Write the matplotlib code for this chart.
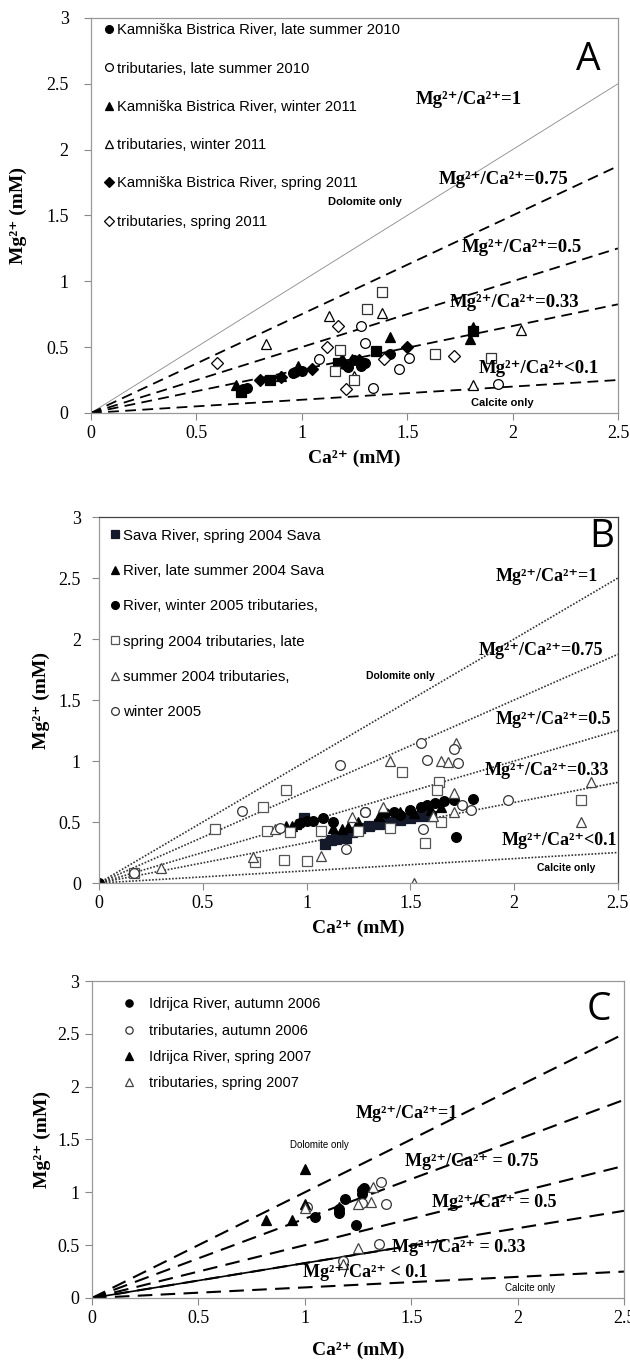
import numpy as np
import matplotlib
matplotlib.use('Agg')
from matplotlib import pyplot as plt
from matplotlib.ticker import FormatStrFormatter

plt.rcParams['font.family'] = ['Liberation Serif', 'DejaVu Serif']

#(0) Data  (Ca2+, Mg2+ in mM)
# Panel A: Kamniska Bistrica
a_riv_ls2010   = [(0.72,0.18),(0.74,0.19),(0.96,0.30),(0.97,0.31),(1.00,0.32),(1.20,0.37),(1.22,0.35),(1.25,0.40),(1.28,0.36),(1.30,0.38),(1.42,0.45)]
a_trib_ls2010  = [(1.08,0.41),(1.28,0.66),(1.30,0.53),(1.34,0.19),(1.46,0.33),(1.51,0.42),(1.93,0.22)]
a_riv_w2011    = [(0.69,0.21),(0.90,0.28),(0.98,0.36),(1.19,0.42),(1.24,0.41),(1.42,0.58),(1.81,0.65),(1.80,0.56)]
a_trib_w2011   = [(0.83,0.52),(1.13,0.74),(1.38,0.76),(1.25,0.28),(1.81,0.21),(2.04,0.63)]
a_riv_sp2011   = [(0.80,0.25),(0.90,0.27),(1.05,0.33),(1.27,0.40),(1.50,0.50)]
a_trib_sp2011  = [(0.60,0.38),(1.12,0.50),(1.17,0.66),(1.21,0.18),(1.39,0.41),(1.72,0.43)]
a_riv_sq       = [(0.71,0.16),(0.85,0.25),(1.17,0.38),(1.35,0.47),(1.81,0.62)]
a_trib_sq      = [(1.18,0.48),(1.16,0.32),(1.31,0.79),(1.38,0.92),(1.25,0.25),(1.63,0.45),(1.90,0.42)]

# Panel B: Sava
b_riv_sp2004   = [(0.99,0.53),(1.09,0.32),(1.12,0.35),(1.14,0.36),(1.17,0.38),(1.19,0.37),(1.22,0.42),(1.26,0.45),(1.30,0.47),(1.35,0.48),(1.40,0.50),(1.45,0.52),(1.50,0.53),(1.55,0.55),(1.60,0.55)]
b_riv_ls2004   = [(0.90,0.47),(0.93,0.47),(0.95,0.48),(1.13,0.45),(1.17,0.44),(1.20,0.46),(1.25,0.50),(1.35,0.55),(1.45,0.58),(1.52,0.57),(1.60,0.60),(1.65,0.62)]
b_riv_w2005    = [(0.00,0.00),(0.97,0.49),(1.00,0.51),(1.03,0.51),(1.08,0.53),(1.13,0.50),(1.28,0.58),(1.38,0.57),(1.42,0.58),(1.45,0.56),(1.50,0.60),(1.55,0.62),(1.58,0.64),(1.62,0.66),(1.66,0.67),(1.71,0.68),(1.80,0.69),(1.72,0.38)]
b_trib_sp2004  = [(0.17,0.08),(0.56,0.44),(0.79,0.62),(0.90,0.76),(0.81,0.43),(0.92,0.42),(1.07,0.43),(0.75,0.17),(0.89,0.19),(1.00,0.18),(1.46,0.91),(1.64,0.83),(1.63,0.76),(1.65,0.50),(1.57,0.33),(2.32,0.68),(1.25,0.43),(1.40,0.45)]
b_trib_ls2004  = [(0.30,0.12),(0.74,0.21),(0.85,0.44),(1.07,0.22),(1.22,0.54),(1.40,1.00),(1.65,1.00),(1.68,0.99),(1.72,1.15),(1.71,0.74),(1.37,0.62),(1.61,0.55),(1.71,0.58),(2.37,0.83),(2.32,0.50),(1.52,0.00)]
b_trib_w2005   = [(0.17,0.08),(0.69,0.59),(0.87,0.45),(1.16,0.97),(1.19,0.28),(1.28,0.58),(1.55,1.15),(1.71,1.10),(1.58,1.01),(1.73,0.98),(1.75,0.64),(1.79,0.60),(1.97,0.68),(1.56,0.44)]

# Panel C: Idrijca
c_riv_au2006   = [(1.05,0.77),(1.16,0.80),(1.16,0.84),(1.19,0.94),(1.24,0.69),(1.27,1.02),(1.27,0.98),(1.28,1.04)]
c_trib_au2006  = [(1.01,0.86),(1.27,0.90),(1.36,1.10),(1.38,0.89),(1.35,0.51),(1.18,0.35)]
c_riv_sp2007   = [(0.82,0.74),(0.94,0.74),(1.00,0.89),(1.00,1.22),(1.16,0.86)]
c_trib_sp2007  = [(1.00,0.85),(1.25,0.89),(1.31,0.91),(1.32,1.05),(1.25,0.47),(1.18,0.32)]

ratios   = [1, 0.75, 0.5, 0.33, 0.1]
lbl_A    = ['Kamniška Bistrica River, late summer 2010', 'tributaries, late summer 2010',
            'Kamniška Bistrica River, winter 2011', 'tributaries, winter 2011',
            'Kamniška Bistrica River, spring 2011', 'tributaries, spring 2011']
lbl_B    = ['Sava River, spring 2004 Sava', 'River, late summer 2004 Sava',
            'River, winter 2005 tributaries,', 'spring 2004 tributaries, late',
            'summer 2004 tributaries,', 'winter 2005']
lbl_C    = ['Idrijca River, autumn 2006', 'tributaries, autumn 2006',
            'Idrijca River, spring 2007', 'tributaries, spring 2007']
txt_A    = ['=1', '=0.75', '=0.5', '=0.33', '<0.1']
txt_C    = ['=1', ' = 0.75', ' = 0.5', ' = 0.33', ' < 0.1']


def pts(ax, data, marker, filled, ms=7, color='k', label=None, mew=0.9):
	d = np.array(data)
	fc = color if filled else 'white'
	return ax.plot(d[:,0], d[:,1], ls='none', marker=marker, ms=ms, mfc=fc, mec=color, mew=mew, label=label)[0]


def frame(ax, ypad=4, ylpad=4, xlpad=6, spc='#999999'):
	ax.set_xlim(0, 2.5)
	ax.set_ylim(0, 3)
	ax.set_xticks(np.arange(0, 2.51, 0.5))
	ax.set_yticks(np.arange(0, 3.01, 0.5))
	ax.xaxis.set_major_formatter(FormatStrFormatter('%g'))
	ax.yaxis.set_major_formatter(FormatStrFormatter('%g'))
	ax.tick_params(labelsize=13, length=5, color='#888888', width=0.8)
	ax.tick_params(axis='y', pad=ypad)
	for s in ax.spines.values():
		s.set_color(spc); s.set_linewidth(0.9)
	ax.set_xlabel('Ca²⁺ (mM)', size=14, weight='bold', labelpad=xlpad)
	ax.set_ylabel('Mg²⁺ (mM)', size=14, weight='bold', labelpad=ylpad)


def ratio_text(ax, x, y, s, size=13.5):
	ax.text(x, y, 'Mg²⁺/Ca²⁺' + s, size=size, weight='bold', va='center', ha='left')


plt.close('all')
fig = plt.figure(figsize=(6.3, 13.61), dpi=100)
axA = fig.add_axes([0.1444, 0.6966, 0.8365, 0.2902])
axB = fig.add_axes([0.157, 0.3512, 0.8238, 0.2689])
axC = fig.add_axes([0.146, 0.0463, 0.8444, 0.2329])
xx  = np.array([0, 2.5])

#(1) Panel A
for r in ratios:
	if r == 1:
		axA.plot(xx, r*xx, color='#888888', lw=0.6)
	else:
		axA.plot(xx, r*xx, color='k', lw=1.3, ls=(0, (6, 3.5)))
hA = [pts(axA, a_riv_ls2010, 'o', True), pts(axA, a_trib_ls2010, 'o', False),
      pts(axA, a_riv_w2011, '^', True), pts(axA, a_trib_w2011, '^', False),
      pts(axA, a_riv_sp2011, 'D', True, ms=6), pts(axA, a_trib_sp2011, 'D', False, ms=6)]
pts(axA, a_riv_sq, 's', True)
pts(axA, a_trib_sq, 's', False, color='#333333')
axA.legend(hA, lbl_A, loc='upper left', bbox_to_anchor=(0.0, 1.02), frameon=False, handlelength=0.7,
           handletextpad=0.15, labelspacing=1.65, markerscale=0.8,
           prop=dict(family='Liberation Sans', size=10.6))
for (x, y), s in zip([(1.54,2.38),(1.65,1.77),(1.76,1.26),(1.70,0.84),(1.84,0.34)], txt_A):
	ratio_text(axA, x, y, s)
axA.text(1.30, 1.60, 'Dolomite only', family='Liberation Sans', weight='bold', size=8, ha='center', va='center')
axA.text(1.95, 0.076, 'Calcite only', family='Liberation Sans', weight='bold', size=8, ha='center', va='center')
axA.text(2.36, 2.68, 'A', family='Open Sans', size=28, ha='center', va='center')
frame(axA, ypad=11, ylpad=14)

#(2) Panel B
for r in ratios:
	axB.plot(xx, r*xx, color='#333333', lw=1.2, ls=(0, (1, 1)))
hB = [pts(axB, b_riv_sp2004, 's', True, color='#141a2a'), pts(axB, b_riv_ls2004, '^', True),
      pts(axB, b_riv_w2005, 'o', True), pts(axB, b_trib_sp2004, 's', False, color='#555555'),
      pts(axB, b_trib_ls2004, '^', False, color='#444444'), pts(axB, b_trib_w2005, 'o', False, color='#333333')]
axB.legend(hB, lbl_B, loc='upper left', bbox_to_anchor=(-0.005, 1.005), frameon=False, handlelength=0.7,
           handletextpad=0.15, labelspacing=1.42, markerscale=0.8,
           prop=dict(family='Liberation Sans', size=10.8))
for (x, y), s in zip([(1.91,2.51),(1.83,1.91),(1.91,1.34),(1.86,0.92),(1.94,0.35)], txt_A):
	ratio_text(axB, x, y, s, size=13)
axB.text(1.45, 1.70, 'Dolomite only', family='Liberation Sans', weight='bold', size=7.5, ha='center', va='center')
axB.text(2.25, 0.125, 'Calcite only', family='Liberation Sans', weight='bold', size=7.5, ha='center', va='center')
axB.text(2.42, 2.84, 'B', family='Open Sans', size=28, ha='center', va='center')
frame(axB, ypad=8, ylpad=6)
axB.spines['top'].set_color('#444444')
axB.spines['right'].set_color('#444444')

#(3) Panel C
for r in ratios:
	axC.plot(xx, r*xx, color='k', lw=1.5, ls=(0, (7, 4)))
axC.plot([0, 1.4], [0, 0.33*1.4], color='k', lw=1.2)
hC = [pts(axC, c_riv_au2006, 'o', True), pts(axC, c_trib_au2006, 'o', False, color='#333333'),
      pts(axC, c_riv_sp2007, '^', True), pts(axC, c_trib_sp2007, '^', False, color='#444444')]
axC.legend(hC, lbl_C, loc='upper left', bbox_to_anchor=(0.035, 0.99), frameon=False, handlelength=0.7,
           handletextpad=1.0, labelspacing=0.85, markerscale=0.75,
           prop=dict(family='Liberation Sans', size=10.5))
for (x, y), s in zip([(1.24,1.75),(1.47,1.29),(1.60,0.90),(1.41,0.48),(0.99,0.24)], txt_C):
	ratio_text(axC, x, y, s, size=13)
axC.text(1.07, 1.45, 'Dolomite only', family='Liberation Sans', size=7, ha='center', va='center')
axC.text(2.06, 0.09, 'Calcite only', family='Liberation Sans', size=7, ha='center', va='center')
axC.text(2.38, 2.73, 'C', family='Open Sans', size=28, ha='center', va='center')
frame(axC, xlpad=11)

fig.savefig('out.png', dpi=100)
